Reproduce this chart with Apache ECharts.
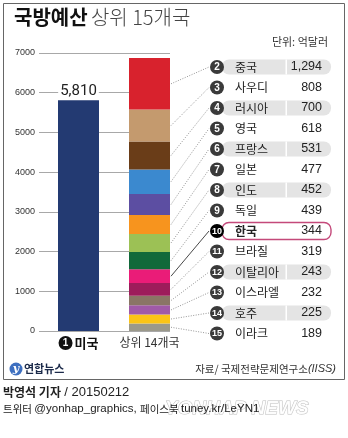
<!DOCTYPE html>
<html>
<head>
<meta charset="utf-8">
<script src="https://cdn.jsdelivr.net/npm/echarts@6/dist/echarts.min.js"></script>
<style>
  html, body { margin: 0; padding: 0; background: #fff; }
  #chart { width: 348px; height: 438px; }
</style>
</head>
<body>
<div id="chart"></div>
<script>
// Defence budgets, unit: 100 million USD
const usName = '미국';
const usBudget = 5810;
const countries = ['중국', '사우디', '러시아', '영국', '프랑스', '일본', '인도', '독일', '한국', '브라질', '이탈리아', '이스라엘', '호주', '이라크'];
const ranks = [2, 3, 4, 5, 6, 7, 8, 9, 10, 11, 12, 13, 14, 15];
const budgets = [1294, 808, 700, 618, 531, 477, 452, 439, 344, 319, 243, 232, 225, 189];
const segmentColors = ['#d8222d', '#c49a6e', '#6a3d18', '#3b89cf', '#5c4ea2', '#f7941e', '#9cc155', '#11693a', '#ea1c78', '#9d1c5b', '#8a7565', '#a05aa7', '#fbc417', '#9b998b'];
const categories = ['미국', '상위 14개국'];
const yTicks = [0, 1000, 2000, 3000, 4000, 5000, 6000, 7000];

const KR = '"Noto Sans CJK KR", sans-serif';
const NUM = '"Liberation Sans Narrow", "Liberation Sans", Arial, sans-serif';

const chart = echarts.init(document.getElementById('chart'));

const BAR_W = 41;
const plotTop = 53, plotHeight = 278;

// stacked series: the bottom segment comes first
const series = [{
  name: usName,
  type: 'bar',
  xAxisIndex: 1, yAxisIndex: 1,
  stack: 'total',
  barWidth: BAR_W,
  itemStyle: { color: '#233a72' },
  label: {
    show: true, position: 'top', distance: 2,
    formatter: p => p.value.toLocaleString('en-US'),
    fontFamily: 'Roboto, sans-serif', fontSize: 15, color: '#222',
    backgroundColor: '#fff', padding: [0, 2]
  },
  data: [usBudget, '-']
}];
for (let i = countries.length - 1; i >= 0; i--) {
  series.push({
    name: countries[i],
    type: 'bar',
    xAxisIndex: 1, yAxisIndex: 1,
    stack: 'total',
    barWidth: BAR_W,
    itemStyle: { color: segmentColors[i] },
    data: ['-', budgets[i]]
  });
}

chart.setOption({
  animation: false,
  backgroundColor: '#fff',
  grid: [
    { left: 39, width: 131, top: plotTop, height: plotHeight },
    { left: 43, width: 142, top: plotTop, height: plotHeight }
  ],
  xAxis: [
    { type: 'category', gridIndex: 0, data: categories, show: false },
    {
      type: 'category', gridIndex: 1, data: categories,
      axisLine: { show: false }, axisTick: { show: false },
      axisLabel: {
        margin: 5, interval: 0, hideOverlap: false,
        formatter: (v, idx) => idx === 0 ? '{n|1}{b|' + v + '}' : '{t|' + v + '}',
        rich: {
          n: { backgroundColor: '#111', color: '#fff', borderRadius: 7, width: 14, height: 14, align: 'center', fontSize: 10, fontWeight: 'bold', fontFamily: NUM, lineHeight: 14 },
          b: { fontFamily: KR, fontSize: 13, fontWeight: 'bold', color: '#111', padding: [0, 0, 0, 2] },
          t: { fontFamily: KR, fontSize: 12, color: '#333' }
        }
      }
    }
  ],
  yAxis: [
    {
      type: 'value', gridIndex: 0, min: yTicks[0], max: yTicks[yTicks.length - 1], interval: 1000,
      axisLine: { show: false }, axisTick: { show: false },
      axisLabel: { margin: 4, fontFamily: NUM, fontSize: 9, color: '#333', formatter: v => String(v) },
      splitLine: { lineStyle: { color: '#a8a8a8', width: 1 } }
    },
    {
      type: 'value', gridIndex: 1, min: yTicks[0], max: yTicks[yTicks.length - 1], interval: 1000,
      show: false, splitLine: { show: false }
    }
  ],
  series: series
});

// list of ranks on the right, with connectors to the stacked segments
const ROW_TOP = 67, ROW_STEP = 20.5;
const CIRCLE_X = 217, NAME_X = 235, VALUE_X = 322;
const highlight = '한국';
const g = [];

// frame
g.push({ type: 'rect', shape: { x: 3.5, y: 3.5, width: 341, height: 376 }, style: { fill: 'none', stroke: '#666', lineWidth: 1 }, z: 1 });

// title and unit
g.push({
  type: 'text', left: 14, top: 7,
  style: {
    text: '{b|국방예산} {l|상위 15개국}',
    rich: {
      b: { fontFamily: KR, fontSize: 20, fontWeight: 'bold', fill: '#111' },
      l: { fontFamily: KR, fontSize: 20, fontWeight: 300, fill: '#444' }
    }
  }, z: 10
});
g.push({ type: 'text', right: 20, top: 36, style: { text: '단위: 억달러', fontFamily: KR, fontSize: 11, fill: '#333' }, z: 10 });

const barRightX = chart.convertToPixel({ xAxisIndex: 1, yAxisIndex: 1 }, [1, 0])[0] + BAR_W / 2;
let cumulative = 0;
const mids = new Array(countries.length);
for (let i = countries.length - 1; i >= 0; i--) {
  mids[i] = cumulative + budgets[i] / 2;
  cumulative += budgets[i];
}

countries.forEach((c, i) => {
  const y = ROW_TOP + i * ROW_STEP;
  const isHi = c === highlight;
  // connector
  const segY = chart.convertToPixel({ xAxisIndex: 1, yAxisIndex: 1 }, [1, mids[i]])[1];
  g.push({
    type: 'line',
    shape: { x1: barRightX + 1, y1: segY, x2: CIRCLE_X - 8, y2: y },
    style: isHi ? { stroke: '#333', lineWidth: 0.9 } : { stroke: '#8a8a8a', lineWidth: 0.9, lineDash: [1, 1.5] },
    z: 5
  });
  // row background
  if (isHi) {
    g.push({ type: 'rect', shape: { x: 222, y: y - 8.5, width: 109, height: 17, r: 7 }, style: { fill: '#fff', stroke: '#c4497a', lineWidth: 1.4 }, z: 4 });
  } else if (i % 2 === 0) {
    g.push({ type: 'rect', shape: { x: 222, y: y - 7.5, width: 109, height: 15, r: 7 }, style: { fill: '#e4e4e4' }, z: 4 });
    g.push({ type: 'rect', shape: { x: 285.5, y: y - 7.5, width: 1.5, height: 15 }, style: { fill: '#fff' }, z: 4 });
  }
  // rank badge
  g.push({ type: 'circle', shape: { cx: CIRCLE_X, cy: y, r: 7 }, style: { fill: isHi ? '#000' : '#3a3a3a' }, z: 6 });
  g.push({
    type: 'text', x: CIRCLE_X, y: y + 0.5,
    style: { text: String(ranks[i]), fontFamily: NUM, fontWeight: 'bold', fontSize: ranks[i] >= 10 ? 9 : 10, fill: '#fff', align: 'center', verticalAlign: 'middle' },
    z: 7
  });
  g.push({
    type: 'text', x: NAME_X, y: y,
    style: { text: c, fontFamily: KR, fontSize: 12, fontWeight: isHi ? 'bold' : 'normal', fill: '#222', align: 'left', verticalAlign: 'middle' },
    z: 7
  });
  g.push({
    type: 'text', x: VALUE_X, y: y,
    style: { text: budgets[i].toLocaleString('en-US'), fontFamily: NUM, fontSize: 12.5, fill: '#222', align: 'right', verticalAlign: 'middle' },
    z: 7
  });
});

// agency logo and source
g.push({ type: 'circle', shape: { cx: 16, cy: 369, r: 6.5 }, style: { fill: '#3d6fc0' }, z: 8 });
g.push({ type: 'text', x: 16, y: 369.5, style: { text: 'y', fontFamily: 'DejaVu Serif, serif', fontStyle: 'italic', fontWeight: 'bold', fontSize: 11, fill: '#fff', align: 'center', verticalAlign: 'middle' }, z: 9 });
g.push({ type: 'text', x: 24, y: 369, style: { text: '연합뉴스', fontFamily: KR, fontWeight: 'bold', fontSize: 11, fill: '#1b2a4a', verticalAlign: 'middle' }, z: 9 });
g.push({
  type: 'text', x: 336, y: 369,
  style: {
    text: '{k|자료/ 국제전략문제연구소}{i|(IISS)}',
    align: 'right', verticalAlign: 'middle',
    rich: {
      k: { fontFamily: KR, fontSize: 10.5, fill: '#333' },
      i: { fontFamily: NUM, fontStyle: 'italic', fontSize: 11, fill: '#333' }
    }
  }, z: 9
});

// credits below the frame
g.push({
  type: 'text', x: 3, y: 392,
  style: {
    text: '{b|박영석 기자} {n|/ 20150212}', verticalAlign: 'middle',
    rich: {
      b: { fontFamily: KR, fontSize: 12, fontWeight: 'bold', fill: '#222' },
      n: { fontFamily: NUM, fontSize: 13, fill: '#222' }
    }
  }, z: 9
});
g.push({
  type: 'text', x: 165, y: 409,
  style: { text: 'YONHAP NEWS', fontFamily: '"Liberation Sans", Arial, sans-serif', fontWeight: 'bold', fontStyle: 'italic', fontSize: 19, fill: '#fff', stroke: '#b8b8b8', lineWidth: 1, verticalAlign: 'middle', opacity: 0.9 },
  z: 8
});
g.push({
  type: 'text', x: 3, y: 409,
  style: {
    text: '{k|트위터 }{n|@yonhap_graphics, }{k|페이스북 }{n|tuney.kr/LeYN1}', verticalAlign: 'middle',
    rich: {
      k: { fontFamily: KR, fontSize: 10.5, fill: '#222' },
      n: { fontFamily: NUM, fontSize: 11.5, fill: '#222' }
    }
  }, z: 9
});

chart.setOption({ graphic: g });
</script>
</body>
</html>
